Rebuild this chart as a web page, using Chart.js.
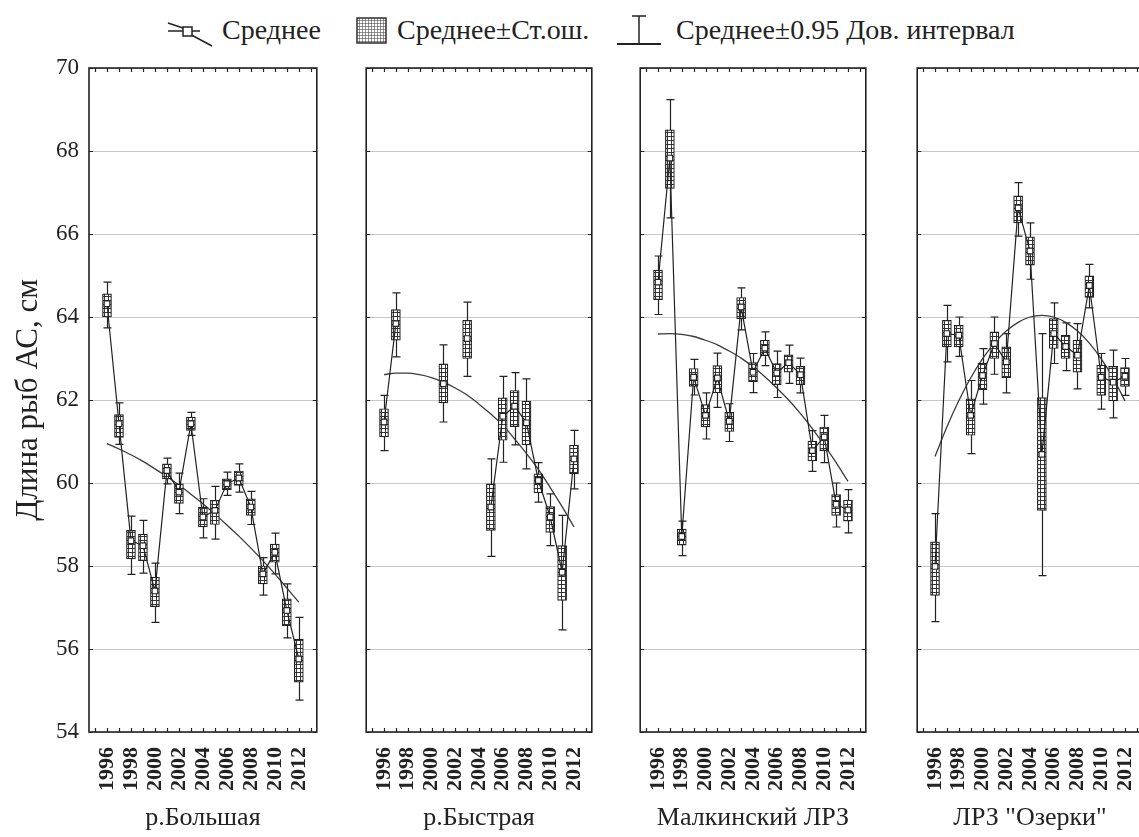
<!DOCTYPE html>
<html><head><meta charset="utf-8">
<script src="https://cdn.jsdelivr.net/npm/chart.js@4.4.0/dist/chart.umd.min.js"></script>
<style>
body{margin:0;background:#fff;overflow:hidden;width:1139px;height:837px;position:relative;font-family:'Liberation Serif','Times New Roman',serif;color:#222}
.lg{position:absolute;top:14px;font-size:28px;line-height:32px;white-space:nowrap}
.ic{position:absolute}
.wrap{position:absolute;top:0;height:837px}
</style></head><body>
<svg class="ic" style="left:166px;top:14px" width="48" height="34" viewBox="0 0 48 34">
  <line x1="2" y1="9" x2="26" y2="17" stroke="#222" stroke-width="1.5"/>
  <line x1="18" y1="17" x2="46" y2="32" stroke="#222" stroke-width="1.5"/>
  <line x1="2" y1="17" x2="34" y2="17" stroke="#222" stroke-width="1.5"/>
  <rect x="17" y="13" width="9" height="9" fill="#fff" stroke="#222" stroke-width="1.5"/>
</svg>
<span class="lg" style="left:222px">Среднее</span>
<svg class="ic" style="left:356px;top:17px" width="31" height="27" viewBox="0 0 31 27">
  <defs><pattern id="hp" width="3" height="3" patternUnits="userSpaceOnUse"><rect width="3" height="3" fill="#fff"/><path d="M0 0H3M0 0V3" stroke="#333" stroke-width="1"/></pattern></defs>
  <rect x="1" y="1" width="29" height="25" fill="url(#hp)" stroke="#222" stroke-width="1.4"/>
</svg>
<span class="lg" style="left:397px">Среднее±Ст.ош.</span>
<svg class="ic" style="left:615px;top:12px" width="48" height="36" viewBox="0 0 48 36">
  <line x1="17" y1="4" x2="31" y2="4" stroke="#222" stroke-width="1.5"/>
  <line x1="24" y1="4" x2="24" y2="32" stroke="#222" stroke-width="1.5"/>
  <line x1="2" y1="32" x2="46" y2="32" stroke="#222" stroke-width="2.2"/>
</svg>
<span class="lg" style="left:676px">Среднее±0.95 Дов. интервал</span>

<div class="wrap" style="left:0px;width:322px"><canvas id="c1" width="322" height="837"></canvas></div>
<div class="wrap" style="left:361px;width:236px"><canvas id="c2" width="236" height="837"></canvas></div>
<div class="wrap" style="left:635px;width:236px"><canvas id="c3" width="236" height="837"></canvas></div>
<div class="wrap" style="left:912px;width:236px"><canvas id="c4" width="236" height="837"></canvas></div>

<script>
// ---- data ----
const years = [1996,1997,1998,1999,2000,2001,2002,2003,2004,2005,2006,2007,2008,2009,2010,2011,2012];
const axisYears = [1995,1996,1997,1998,1999,2000,2001,2002,2003,2004,2005,2006,2007,2008,2009,2010,2011,2012,2013];
const tickYears = ['1996','1998','2000','2002','2004','2006','2008','2010','2012'];
const yTicks = [54,56,58,60,62,64,66,68,70];
const panelNames = ['р.Большая','р.Быстрая','Малкинский ЛРЗ','ЛРЗ "Озерки"'];
const yTitle = 'Длина рыб АС, см';

// р.Большая
const bolMean = [64.32,61.43,58.61,58.49,57.40,60.30,59.78,61.43,59.18,59.34,59.98,60.12,59.42,57.81,58.33,56.93,55.76];
const bolSeLo = [64.00,61.10,58.17,58.13,57.02,60.10,59.51,61.27,58.94,59.00,59.84,59.94,59.22,57.57,58.09,56.56,55.20];
const bolSeHi = [64.56,61.65,58.86,58.77,57.73,60.46,59.98,61.59,59.42,59.58,60.10,60.29,59.62,58.00,58.53,57.21,56.24];
const bolCiLo = [63.74,60.93,57.80,57.83,56.64,59.98,59.26,61.15,58.68,58.65,59.70,59.78,59.00,57.30,57.81,56.27,54.77];
const bolCiHi = [64.84,61.93,59.20,59.10,58.07,60.60,60.24,61.70,59.62,59.92,60.26,60.46,59.80,58.20,58.79,57.57,56.76];
const bolTrend = [60.95,60.82,60.68,60.52,60.34,60.15,59.95,59.73,59.50,59.25,58.99,58.72,58.43,58.13,57.81,57.47,57.13];

// р.Быстрая
const bysMean = [61.47,63.84,null,null,null,62.39,null,63.48,null,59.42,61.61,61.85,61.45,60.06,59.18,57.85,60.58];
const bysSeLo = [61.11,63.44,null,null,null,61.93,null,63.00,null,58.86,61.03,61.36,60.92,59.76,58.81,57.17,60.22];
const bysSeHi = [61.79,64.18,null,null,null,62.87,null,63.92,null,59.98,62.05,62.23,61.97,60.22,59.43,58.49,60.91];
const bysCiLo = [60.78,63.04,null,null,null,61.47,null,62.57,null,58.23,60.50,60.92,60.34,59.54,58.49,56.46,59.86];
const bysCiHi = [62.11,64.58,null,null,null,63.33,null,64.36,null,60.58,62.57,62.66,62.51,60.49,59.74,59.22,61.27];
const bysTrend = [62.61,62.65,62.65,62.61,62.54,62.43,62.29,62.12,61.90,61.66,61.40,61.06,60.71,60.33,59.89,59.43,58.94];

// Малкинский ЛРЗ
const malMean = [64.84,67.83,58.71,62.55,61.63,62.53,61.49,64.24,62.67,63.25,62.65,62.90,62.61,60.78,61.11,59.49,59.35];
const malSeLo = [64.42,67.10,58.50,62.33,61.35,62.17,61.24,63.96,62.44,63.07,62.37,62.67,62.37,60.53,60.78,59.22,59.08];
const malSeHi = [65.13,68.51,58.89,62.76,61.89,62.83,61.70,64.47,62.90,63.44,62.88,63.09,62.81,61.01,61.35,59.72,59.59];
const malCiLo = [64.06,66.39,58.25,62.12,61.06,61.82,61.00,63.69,62.18,62.83,62.06,62.40,62.17,60.28,60.49,58.94,58.80];
const malCiHi = [65.47,69.24,59.08,62.98,62.17,63.13,61.91,64.70,63.12,63.64,63.18,63.32,63.01,61.26,61.63,60.00,59.84];
const malTrend = [63.59,63.60,63.58,63.53,63.44,63.33,63.18,63.01,62.80,62.56,62.29,62.00,61.67,61.31,60.91,60.49,60.04];

// ЛРЗ "Озерки"
const ozeMean = [57.99,63.60,63.56,61.63,62.59,63.36,62.92,66.63,65.59,60.69,63.60,63.29,63.08,64.76,62.55,62.43,62.57];
const ozeSeLo = [57.29,63.28,63.28,61.15,62.25,63.00,62.54,66.27,65.25,59.34,63.24,63.00,62.67,64.47,62.11,61.98,62.33];
const ozeSeHi = [58.58,63.92,63.80,62.03,62.89,63.64,63.28,66.92,65.93,62.06,63.96,63.56,63.44,64.99,62.84,62.81,62.78];
const ozeCiLo = [56.66,62.92,63.05,60.71,61.90,62.62,62.17,65.95,64.91,57.77,62.88,62.71,62.27,64.22,61.78,61.57,62.11];
const ozeCiHi = [59.26,64.28,64.00,62.47,63.24,64.00,63.60,67.24,66.27,63.60,64.34,63.86,63.84,65.27,63.12,63.20,63.00];
const ozeTrend = [60.64,61.35,61.98,62.53,62.99,63.37,63.66,63.87,64.00,64.04,64.00,63.87,63.66,63.37,62.99,62.53,61.98];

// ---- drawing ----
Chart.defaults.font.family = "'Liberation Serif','Times New Roman',serif";
Chart.defaults.color = '#222';
const INK = '#222';

function makePattern(){
  const c = document.createElement('canvas'); c.width = 4; c.height = 4;
  const g = c.getContext('2d');
  g.fillStyle = '#fff'; g.fillRect(0,0,4,4);
  g.fillStyle = '#333'; g.fillRect(0,0,4,1); g.fillRect(0,0,1,4);
  return g.createPattern(c,'repeat');
}

const framePlugin = {
  id: 'frame',
  beforeDatasetsDraw(chart, args, opts){
    const ctx = chart.ctx, xs = chart.scales.x, ys = chart.scales.y;
    ctx.save();
    ctx.strokeStyle = INK; ctx.lineWidth = 1.2;
    years.forEach((yr,i)=>{
      const lo = opts.ciLo[i], hi = opts.ciHi[i];
      if (lo == null || hi == null) return;
      const x = Math.round(xs.getPixelForValue(yr)) + 0.5;
      const y1 = ys.getPixelForValue(lo), y2 = ys.getPixelForValue(hi);
      ctx.beginPath();
      ctx.moveTo(x, y1); ctx.lineTo(x, y2);
      ctx.moveTo(x-4, y1); ctx.lineTo(x+4, y1);
      ctx.moveTo(x-4, y2); ctx.lineTo(x+4, y2);
      ctx.stroke();
    });
    ctx.restore();
  },
  afterDraw(chart){
    const ctx = chart.ctx, a = chart.chartArea, xs = chart.scales.x, ys = chart.scales.y;
    ctx.save();
    ctx.strokeStyle = INK; ctx.lineWidth = 1.6;
    ctx.strokeRect(a.left, a.top, a.right - a.left, a.bottom - a.top);
    ctx.lineWidth = 1.2;
    ctx.beginPath();
    axisYears.forEach(yr=>{
      const x = Math.round(xs.getPixelForValue(yr)) + 0.5;
      ctx.moveTo(x, a.top); ctx.lineTo(x, a.top + 4);
      ctx.moveTo(x, a.bottom); ctx.lineTo(x, a.bottom - 4);
    });
    yTicks.forEach(v=>{
      const y = Math.round(ys.getPixelForValue(v)) + 0.5;
      ctx.moveTo(a.left, y); ctx.lineTo(a.left + 4, y);
      ctx.moveTo(a.right, y); ctx.lineTo(a.right - 4, y);
    });
    ctx.stroke();
    ctx.restore();
  }
};

function pts(arr){ return years.map((y,i)=>({x:y, y:arr[i]})); }

function panel(id, idx, mean, seLo, seHi, ciLo, ciHi, trend){
  const first = idx === 0;
  const boxes = years.map((y,i)=> seLo[i]==null ? null : {x:y, y:[seLo[i], seHi[i]]}).filter(d=>d);
  new Chart(document.getElementById(id), {
    type: 'bar',
    data: {
      datasets: [
        {type:'line', data: pts(mean), borderColor: INK, borderWidth: 1.2, pointStyle:'rect',
         pointRadius: 4, pointBackgroundColor:'#fff', pointBorderColor: INK, pointBorderWidth: 1.2,
         spanGaps:false, tension:0, order:1},
        {type:'bar', data: boxes, backgroundColor: makePattern(), borderColor: INK, borderWidth: 1.2,
         borderSkipped:false, barThickness: 9, grouped:false, order:2},
        {type:'line', data: pts(trend), borderColor:'#3a3a3a', borderWidth: 1.3, pointRadius:0,
         tension:0.4, cubicInterpolationMode:'monotone', order:3}
      ]
    },
    options: {
      responsive:false, animation:false, devicePixelRatio:1,
      layout: {padding: {top:68, bottom:0, left: first ? 0 : 3, right:3}},
      plugins: {legend:{display:false}, tooltip:{enabled:false}, frame:{ciLo, ciHi}},
      scales: {
        x: {type:'linear', min:1994.5, max:2013.5, offset:false,
            grid:{display:false}, border:{display:false},
            afterBuildTicks: s => { s.ticks = axisYears.map(v => ({value:v})); },
            ticks:{autoSkip:false, minRotation:90, maxRotation:90, padding:7,
                   font:{size:22, weight:'bold'}, color: INK,
                   callback: v => tickYears.includes(String(v)) ? String(v) : ''},
            title:{display:true, text: panelNames[idx], font:{size:26}, color: INK, padding:{top:0, bottom:3}},
            afterFit: s => { s.height = 105; s.paddingLeft = 0; s.paddingRight = 0; }},
        y: {min:54, max:70,
            grid:{color:'#c8c8c8', lineWidth:1, drawTicks:false}, border:{display:false},
            ticks:{display:first, stepSize:2, padding:10, font:{size:23}, color: INK},
            title:{display:first, text: yTitle, font:{size:31}, color: INK, padding:{top:10, bottom:0}},
            afterFit: s => { s.width = first ? 89 : 0; s.paddingTop = 0; s.paddingBottom = 0; }}
      }
    },
    plugins:[framePlugin]
  });
}

panel('c1', 0, bolMean, bolSeLo, bolSeHi, bolCiLo, bolCiHi, bolTrend);
panel('c2', 1, bysMean, bysSeLo, bysSeHi, bysCiLo, bysCiHi, bysTrend);
panel('c3', 2, malMean, malSeLo, malSeHi, malCiLo, malCiHi, malTrend);
panel('c4', 3, ozeMean, ozeSeLo, ozeSeHi, ozeCiLo, ozeCiHi, ozeTrend);
</script>
</body></html>
